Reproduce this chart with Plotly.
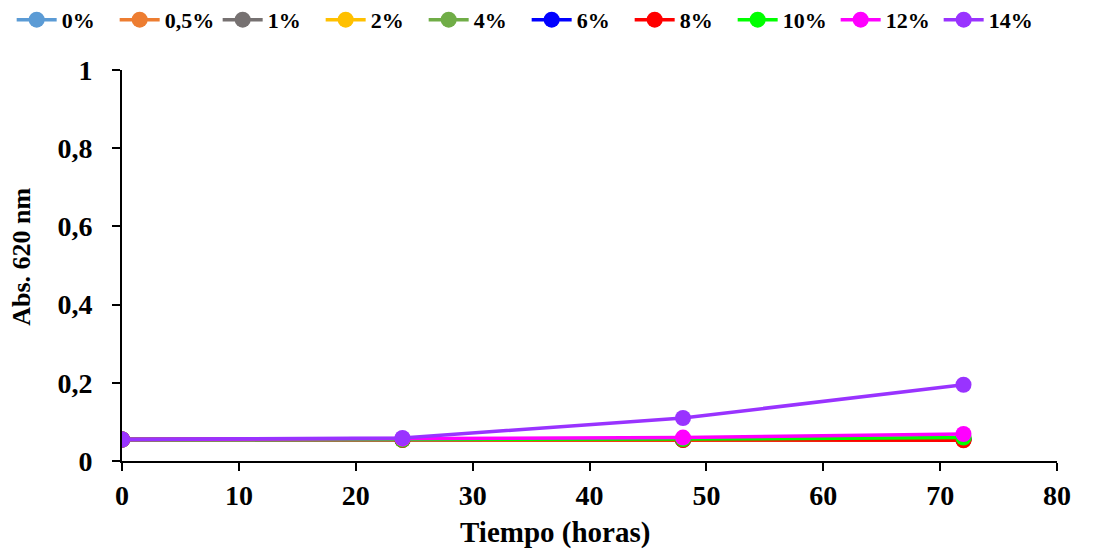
import plotly.graph_objects as go

tiempo = [0, 24, 48, 72]
series_names = ["0%", "0,5%", "1%", "2%", "4%", "6%", "8%", "10%", "12%", "14%"]
colors = ["#5B9BD5", "#ED7D31", "#767171", "#FFC000", "#70AD47",
          "#0000FF", "#FF0000", "#00FF00", "#FF00FF", "#9933FF"]
v_0 = [0.055, 0.054, 0.054, 0.054]
v_05 = [0.055, 0.054, 0.054, 0.054]
v_1 = [0.055, 0.054, 0.054, 0.055]
v_2 = [0.055, 0.054, 0.054, 0.055]
v_4 = [0.055, 0.055, 0.055, 0.057]
v_6 = [0.055, 0.055, 0.055, 0.056]
v_8 = [0.055, 0.054, 0.054, 0.053]
v_10 = [0.055, 0.055, 0.056, 0.060]
v_12 = [0.055, 0.057, 0.060, 0.069]
v_14 = [0.055, 0.059, 0.110, 0.195]
values = [v_0, v_05, v_1, v_2, v_4, v_6, v_8, v_10, v_12, v_14]

font_family = "Liberation Serif"

fig = go.Figure()
for name, col, vals in zip(series_names, colors, values):
    fig.add_trace(go.Scatter(
        x=tiempo, y=vals, name=name, mode="lines+markers",
        line=dict(color=col, width=3.5),
        marker=dict(color=col, size=16),
    ))

fig.update_layout(
    width=1112, height=551,
    paper_bgcolor="white", plot_bgcolor="white",
    margin=dict(l=114, r=63, t=62, b=98, autoexpand=False),
    font=dict(family=font_family, size=22, color="black"),
    legend=dict(orientation="h", xref="paper", x=-0.118, xanchor="left",
                yref="paper", y=1.182, yanchor="top",
                font=dict(family=font_family, size=22, color="black", weight="bold"),
                itemwidth=40, entrywidth=48, entrywidthmode="pixels",
                tracegroupgap=0),
    showlegend=True,
)
fig.update_xaxes(
    range=[0, 80], tickvals=list(range(0, 81, 10)),
    showline=True, linecolor="black", linewidth=2,
    ticks="outside", ticklen=8, tickwidth=2, tickcolor="black",
    showgrid=False, zeroline=False, automargin=False,
    tickfont=dict(family=font_family, size=28, color="black", weight="bold"),
    ticklabelstandoff=0,
)
fig.update_yaxes(
    range=[0, 1], tickvals=[0, 0.2, 0.4, 0.6, 0.8, 1],
    ticktext=["0", "0,2", "0,4", "0,6", "0,8", "1"],
    showline=True, linecolor="black", linewidth=2,
    ticks="outside", ticklen=8, tickwidth=2, tickcolor="black",
    showgrid=False, zeroline=False, automargin=False,
    tickfont=dict(family=font_family, size=28, color="black", weight="bold"),
    ticklabelstandoff=14,
)
fig.add_annotation(
    text="<b>Abs. 620 nm</b>", textangle=-90, showarrow=False,
    xref="paper", yref="paper", x=-0.107, y=0.522, xanchor="center", yanchor="middle",
    font=dict(family=font_family, size=26, color="black"),
)
fig.add_annotation(
    text="<b>Tiempo (horas)</b>", showarrow=False,
    xref="paper", yref="paper", x=0.463, y=-0.184, xanchor="center", yanchor="middle",
    font=dict(family=font_family, size=29, color="black"),
)
fig.write_html("out.html")
